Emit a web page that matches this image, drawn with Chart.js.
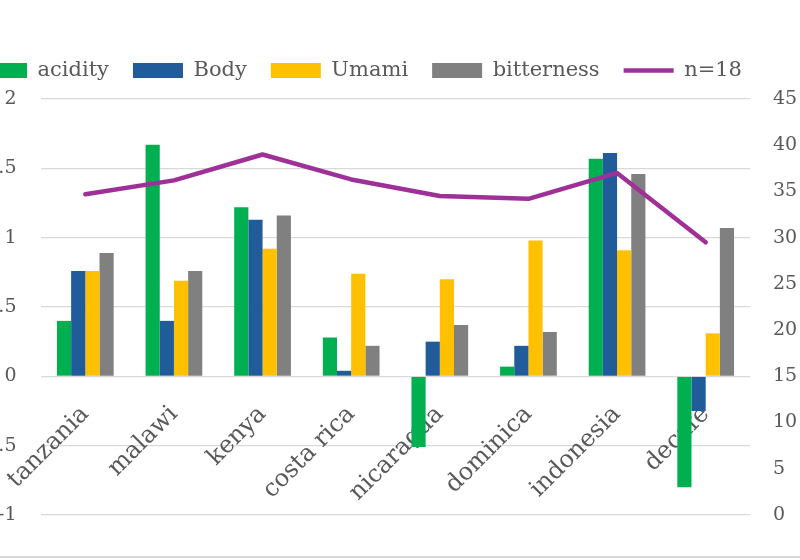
<!DOCTYPE html>
<html>
<head>
<meta charset="utf-8">
<script src="https://cdn.jsdelivr.net/npm/chart.js@4.4.0/dist/chart.umd.min.js"></script>
<style>
  html, body { margin: 0; padding: 0; background: #fff; overflow: hidden; }
  #wrap { position: relative; width: 800px; height: 560px; overflow: hidden; }
  /* the original picture is cropped on the left, so the canvas starts off-screen */
  #chart { position: absolute; left: -81px; top: 0; }
  #edge { position: absolute; left: 0; top: 556px; width: 800px; height: 2px; background: #d9d9d9; }
</style>
</head>
<body>
<div id="wrap">
  <canvas id="chart" width="881" height="560"></canvas>
  <div id="edge"></div>
</div>
<script>
const origins = ['tanzania', 'malawi', 'kenya', 'costa rica', 'nicaragua', 'dominica', 'indonesia', 'decafe'];
const acidity = [0.40, 1.67, 1.22, 0.28, -0.51, 0.07, 1.57, -0.80];
const body = [0.76, 0.40, 1.13, 0.04, 0.25, 0.22, 1.61, -0.25];
const umami = [0.76, 0.69, 0.92, 0.74, 0.70, 0.98, 0.91, 0.31];
const bitterness = [0.89, 0.76, 1.16, 0.22, 0.37, 0.32, 1.46, 1.07];
const n18 = [34.7, 36.2, 39.0, 36.3, 34.5, 34.2, 37.0, 29.5];

const textColor = '#595959';
const gridColor = '#d9d9d9';
const serif = 'DejaVu Serif';

// push the plot area down a little below the legend
const legendGap = {
    id: 'legendGap',
    beforeInit(chart) {
        const fit = chart.legend.fit;
        chart.legend.fit = function () {
            fit.call(this);
            this.height += 8;
        };
    }
};

const ctx = document.getElementById('chart');
const myChart = new Chart(ctx, {
    type: 'bar',
    data: {
        labels: origins,
        datasets: [
            { label: 'acidity', data: acidity, backgroundColor: '#00B050', yAxisID: 'y', order: 1 },
            { label: 'Body', data: body, backgroundColor: '#1F5C99', yAxisID: 'y', order: 1 },
            { label: 'Umami', data: umami, backgroundColor: '#FFC000', yAxisID: 'y', order: 1 },
            { label: 'bitterness', data: bitterness, backgroundColor: '#808080', yAxisID: 'y', order: 1 },
            {
                type: 'line',
                label: 'n=18',
                data: n18,
                yAxisID: 'y1',
                borderColor: '#9E3098',
                backgroundColor: '#9E3098',
                borderWidth: 4.5,
                borderJoinStyle: 'round',
                borderCapStyle: 'round',
                pointRadius: 0,
                tension: 0,
                order: 0,
            }
        ]
    },
    plugins: [legendGap],
    options: {
        responsive: false,
        animation: false,
        categoryPercentage: 0.64,
        barPercentage: 1,
        layout: {
            padding: { top: 36, bottom: 45, left: 0, right: 0 }
        },
        plugins: {
            legend: {
                display: true,
                labels: {
                    usePointStyle: true,
                    pointStyleWidth: 50,
                    boxHeight: 15,
                    padding: 24,
                    color: textColor,
                    font: { family: serif, size: 21 },
                    sort: (a, b) => a.datasetIndex - b.datasetIndex,
                    generateLabels(chart) {
                        const items = Chart.defaults.plugins.legend.labels.generateLabels(chart);
                        items.forEach(item => {
                            const ds = chart.data.datasets[item.datasetIndex];
                            if (ds.type === 'line') {
                                item.pointStyle = 'line';
                                item.lineWidth = 4.5;
                                item.strokeStyle = ds.borderColor;
                            } else {
                                item.pointStyle = 'rect';
                                item.lineWidth = 0;
                                item.fillStyle = ds.backgroundColor;
                            }
                        });
                        return items;
                    }
                }
            },
            tooltip: { enabled: false }
        },
        scales: {
            x: {
                position: { y: 0 },
                grid: { display: false, drawTicks: false },
                border: { display: false },
                ticks: {
                    autoSkip: false,
                    minRotation: 45,
                    maxRotation: 45,
                    padding: 24,
                    color: textColor,
                    font: { family: serif, size: 24 }
                }
            },
            y: {
                position: 'left',
                min: -1,
                max: 2,
                afterFit: (scale) => { scale.width = 122; },
                grid: { color: gridColor, lineWidth: 1.3, drawTicks: false },
                border: { display: false },
                ticks: {
                    stepSize: 0.5,
                    padding: 24.5,
                    color: textColor,
                    font: { family: serif, size: 19 },
                    callback: (value) => String(value)
                }
            },
            y1: {
                position: 'right',
                min: 0,
                max: 45,
                afterFit: (scale) => { scale.width = 50; },
                grid: { display: false, drawTicks: false },
                border: { display: false },
                ticks: {
                    stepSize: 5,
                    padding: 23,
                    color: textColor,
                    font: { family: serif, size: 19 }
                }
            }
        }
    }
});
</script>
</body>
</html>
